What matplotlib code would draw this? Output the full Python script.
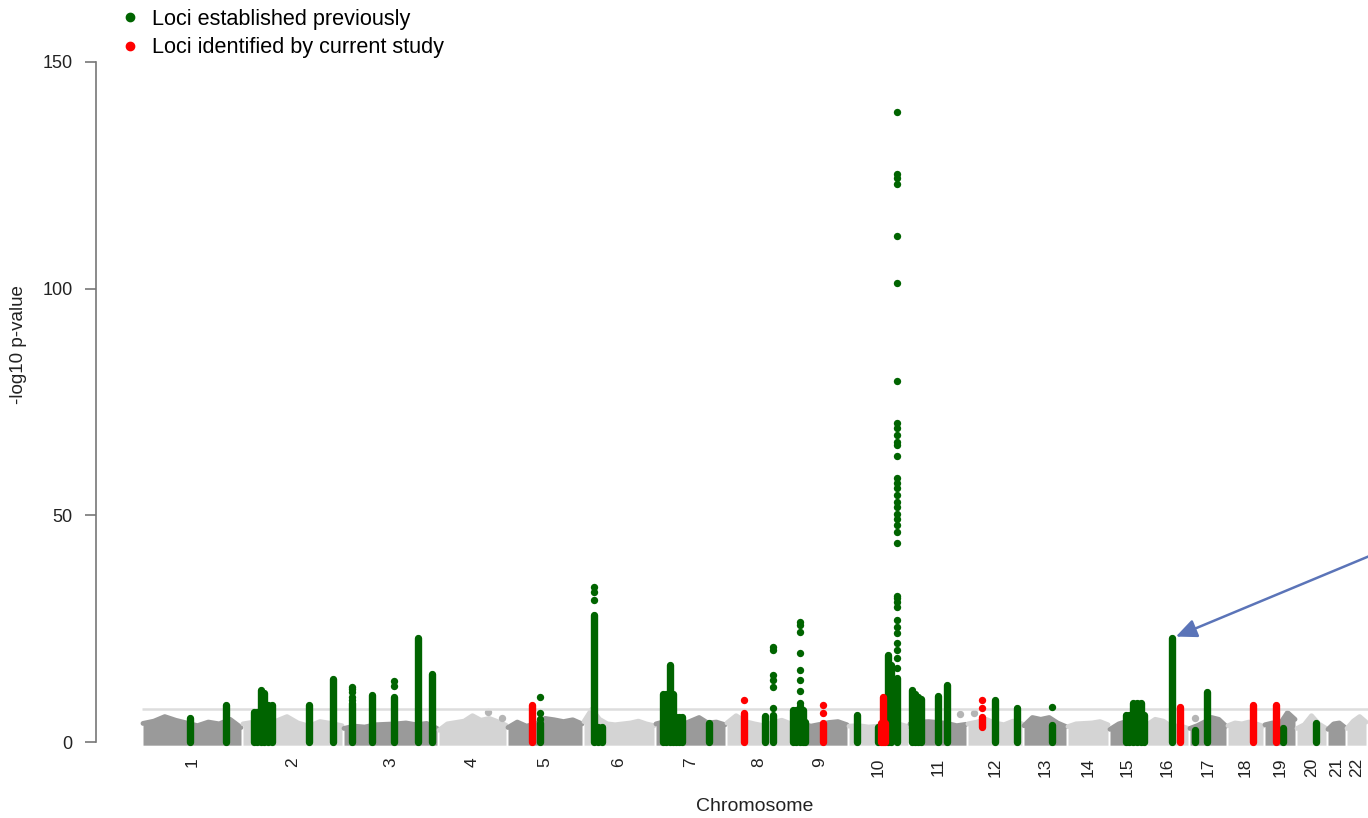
import numpy as np
import matplotlib.pyplot as plt
from matplotlib.lines import Line2D

plt.rcParams['font.family'] = ['Liberation Sans', 'DejaVu Sans']

# chromosome names and widths of each block on the genome axis
chroms = [str(i) for i in range(1, 23)]
chrom_len = [100, 101, 95, 69, 76, 72, 71, 66, 56, 61, 58, 56,
             44, 42, 37, 43, 38, 37, 32, 31, 19, 21]

# upper edge of the grey background cloud, sampled evenly along each chromosome
bg_height = [
    [4.1, 4.6, 5.6, 4.8, 4.2, 3.6, 4.4, 4.0, 5.0, 3.2],
    [4.0, 4.4, 4.0, 4.6, 5.6, 4.2, 3.5, 4.5, 4.1, 3.6],
    [3.0, 3.5, 3.3, 3.8, 3.9, 4.0, 4.2, 3.8, 4.1, 3.0],
    [2.6, 4.0, 4.3, 4.6, 5.8, 4.8, 5.2, 4.5, 3.7],
    [3.2, 4.4, 3.5, 4.0, 5.2, 4.9, 4.5, 4.9, 4.0],
    [4.5, 7.2, 5.0, 4.0, 3.8, 4.0, 4.2, 4.6, 4.0, 3.6],
    [4.0, 4.5, 4.0, 3.8, 4.6, 5.4, 4.2, 4.4, 3.8],
    [4.2, 5.8, 4.5, 4.0, 3.6, 4.3, 4.8, 4.0],
    [3.6, 4.0, 3.5, 3.9, 4.3, 4.5, 3.8],
    [3.5, 3.6, 3.3, 3.5, 4.5, 4.0, 3.4],
    [4.0, 4.4, 4.5, 4.3, 4.1, 3.6, 3.9],
    [4.0, 4.4, 5.0, 4.2, 3.8, 4.6, 4.0],
    [3.6, 5.4, 5.0, 5.4, 4.2, 3.4],
    [3.4, 4.0, 4.1, 4.2, 4.5, 3.8],
    [2.8, 4.0, 4.6, 4.4, 3.2],
    [3.8, 5.0, 4.6, 3.4, 3.6, 3.0],
    [3.0, 3.6, 4.4, 5.4, 5.0, 3.5],
    [3.6, 4.2, 4.0, 4.4, 4.0, 3.5],
    [3.8, 4.2, 4.0, 6.5, 5.0],
    [3.0, 3.8, 5.8, 4.0, 3.0],
    [2.8, 4.0, 4.2, 3.2],
    [3.0, 4.6, 5.6, 4.4],
]

# single grey SNPs standing above the cloud
grey_chrom = [4, 4, 11, 12, 17]
grey_pos = [50, 64, 51, 7, 6]
grey_val = [6.7, 5.3, 6.1, 6.3, 5.3]

# dense runs of SNPs at a locus (drawn as solid stacks)
col_chrom = [1, 1, 2, 2, 2, 2, 2, 2, 2, 2, 3, 3, 3, 3, 3, 5, 6, 6, 6,
             7, 7, 7, 7, 7, 7, 7, 7, 8, 8, 9, 9, 9, 9, 9, 10, 10, 10, 10, 10,
             11, 11, 11, 11, 11, 11, 12, 12, 13, 15, 15, 15, 15, 15, 15,
             16, 17, 17, 19, 20,
             5, 8, 9, 10, 10, 10, 12, 16, 18, 19]
col_pos = [48, 84, 12, 15, 19, 22, 26, 30, 67, 91, 9, 29, 51, 75, 89, 33, 11, 15, 19,
           8, 11, 15, 18, 21, 24, 27, 54, 39, 47, 1, 4, 8, 11, 13, 9, 30, 40, 43, 49,
           3, 6, 9, 12, 29, 38, 28, 50, 29, 17, 20, 24, 28, 32, 35,
           26, 6, 18, 19, 20,
           25, 18, 31, 33, 37, 35, 15, 34, 26, 12]
col_bottom = [0] * 65 + [5.6, 0, 0, 0, 0]
col_top = [5.2, 8.2, 6.7, 6.7, 11.5, 10.8, 8.2, 8.2, 8.2, 13.8, 8.5, 10.4, 10.0, 22.9, 15.0,
           4.2, 28.0, 3.4, 3.4,
           10.7, 10.7, 17.0, 10.7, 5.6, 5.6, 5.6, 4.1, 5.7, 6.0, 7.1, 7.1, 7.1, 7.1, 4.5,
           5.9, 3.4, 19.2, 17.0, 14.1,
           11.5, 10.5, 10.0, 9.5, 10.1, 12.6, 9.3, 7.4, 3.7, 5.9, 5.9, 8.5, 8.5, 8.5, 5.9,
           22.9, 2.6, 11.1, 3.2, 4.1,
           8.2, 6.3, 4.1, 4.1, 4.1, 10.0, 3.4, 7.8, 8.2, 8.2]
col_group = ['prev'] * 59 + ['new'] * 10

# separate SNPs above the stacks
dot_chrom = [3] * 5 + [3] * 2 + [5] * 3 + [6] * 3 + [8] * 6 + [9] * 9 + [10] * 35 + [13] \
    + [8, 9, 9, 12, 12]
dot_pos = [9] * 5 + [51] * 2 + [33] * 3 + [11] * 3 + [47] * 6 + [8] * 9 + [49] * 35 + [29] \
    + [18, 31, 31, 15, 15]
dot_val = [9.3, 10.0, 11.0, 11.7, 12.2,
           12.4, 13.5,
           5.0, 6.4, 10.0,
           31.3, 33.0, 34.3,
           7.6, 12.2, 13.7, 14.8, 20.3, 21.0,
           7.9, 8.7, 11.3, 13.7, 15.9, 19.6, 24.3, 25.8, 26.5,
           16.3, 18.5, 20.3, 21.8, 24.0, 25.4, 26.9, 29.8, 30.9, 31.7, 32.1,
           43.8, 46.4, 47.9, 49.3, 50.4, 51.9, 53.0, 54.5, 56.0, 57.1, 58.2,
           63.1, 65.5, 66.2, 67.7, 69.2, 70.3, 79.7, 101.2, 111.6,
           123.1, 124.3, 125.4, 139.0,
           7.8,
           9.3, 6.3, 8.2, 7.4, 9.3]
dot_group = ['prev'] * 64 + ['new'] * 5

threshold = -np.log10(5e-8)

colors = {'prev': '#006400', 'new': '#ff0000'}
shades = ['#9a9a9a', '#d4d4d4']

W, H = 1368, 818
fig = plt.figure(figsize=(W / 100, H / 100), dpi=100)
ax = fig.add_axes([96 / W, 1 - 748 / H, (W - 96) / W, (748 - 40) / H])

starts = np.concatenate([[0], np.cumsum(chrom_len)[:-1]])
ends = starts + np.array(chrom_len)
centers = (starts + ends) / 2


def gx(c, p):
    return starts[np.asarray(c) - 1] + np.asarray(p)


# grey background cloud
for i, h in enumerate(bg_height):
    x = np.linspace(starts[i] + 1, ends[i] - 1, len(h))
    ax.fill_between(x, -0.7, h, color=shades[i % 2], lw=0, zorder=1)
    ax.plot(x, h, color=shades[i % 2], lw=3.5, solid_joinstyle='round',
            solid_capstyle='round', zorder=1)

ax.scatter(gx(grey_chrom, grey_pos), grey_val, s=28, color='#b5b5b5', lw=0, zorder=1)

ax.hlines(threshold, 0, ends[-1] + 10, color='#dddddd', lw=1.8, zorder=2)

# loci
for g in ['prev', 'new']:
    idx = [k for k, v in enumerate(col_group) if v == g]
    lc = ax.vlines(gx([col_chrom[k] for k in idx], [col_pos[k] for k in idx]),
                   [col_bottom[k] for k in idx], [col_top[k] for k in idx],
                   color=colors[g], lw=5.3, zorder=3)
    lc.set_capstyle('round')
    idx = [k for k, v in enumerate(dot_group) if v == g]
    ax.scatter(gx([dot_chrom[k] for k in idx], [dot_pos[k] for k in idx]),
               [dot_val[k] for k in idx], s=28, color=colors[g], lw=0, zorder=3)

ax.set_xlim(-46, 1226)
ax.set_ylim(-1.32, 154.85)

for s in ['top', 'right', 'bottom']:
    ax.spines[s].set_visible(False)
ax.spines['left'].set_bounds(0, 150)
ax.spines['left'].set_color('#777777')
ax.spines['left'].set_linewidth(1.2)

ax.set_yticks([0, 50, 100, 150])
ax.tick_params(axis='y', length=8, width=1.2, color='#777777', pad=9,
               labelsize=13, labelcolor='#222222')
ax.set_xticks(centers)
ax.set_xticklabels(chroms, rotation=90)
ax.tick_params(axis='x', length=0, pad=7, labelsize=12.5, labelcolor='#222222')

ax.set_ylabel('-log10 p-value', fontsize=13.5, color='#222222')
ax.yaxis.set_label_coords((27 - 96) / (W - 96), (748 - 345) / 708)
ax.set_xlabel('Chromosome', fontsize=14, color='#222222')
ax.xaxis.set_label_coords((755 - 96) / (W - 96), (748 - 798) / 708)

handles = [Line2D([], [], marker='o', ls='', color=colors['prev'], markersize=6),
           Line2D([], [], marker='o', ls='', color=colors['new'], markersize=6)]
fig.legend(handles, ['Loci established previously', 'Loci identified by current study'],
           loc='upper left', bbox_to_anchor=(119 / W, 1 - 9 / H), frameon=False,
           fontsize=15.6, handlelength=1, handletextpad=0.5, labelspacing=0.34,
           borderpad=0, borderaxespad=0)

# arrow pointing at the chromosome 16 locus
ax.annotate('', xy=(gx(16, 26), 22.9), xycoords='data',
            xytext=(1420, H - 535), textcoords='figure pixels',
            arrowprops=dict(arrowstyle='-|>,head_length=0.9,head_width=0.4',
                            color='#5b74b8', lw=1.8, shrinkA=0, shrinkB=3,
                            mutation_scale=14),
            annotation_clip=False)

fig.savefig('out.png', dpi=100)
